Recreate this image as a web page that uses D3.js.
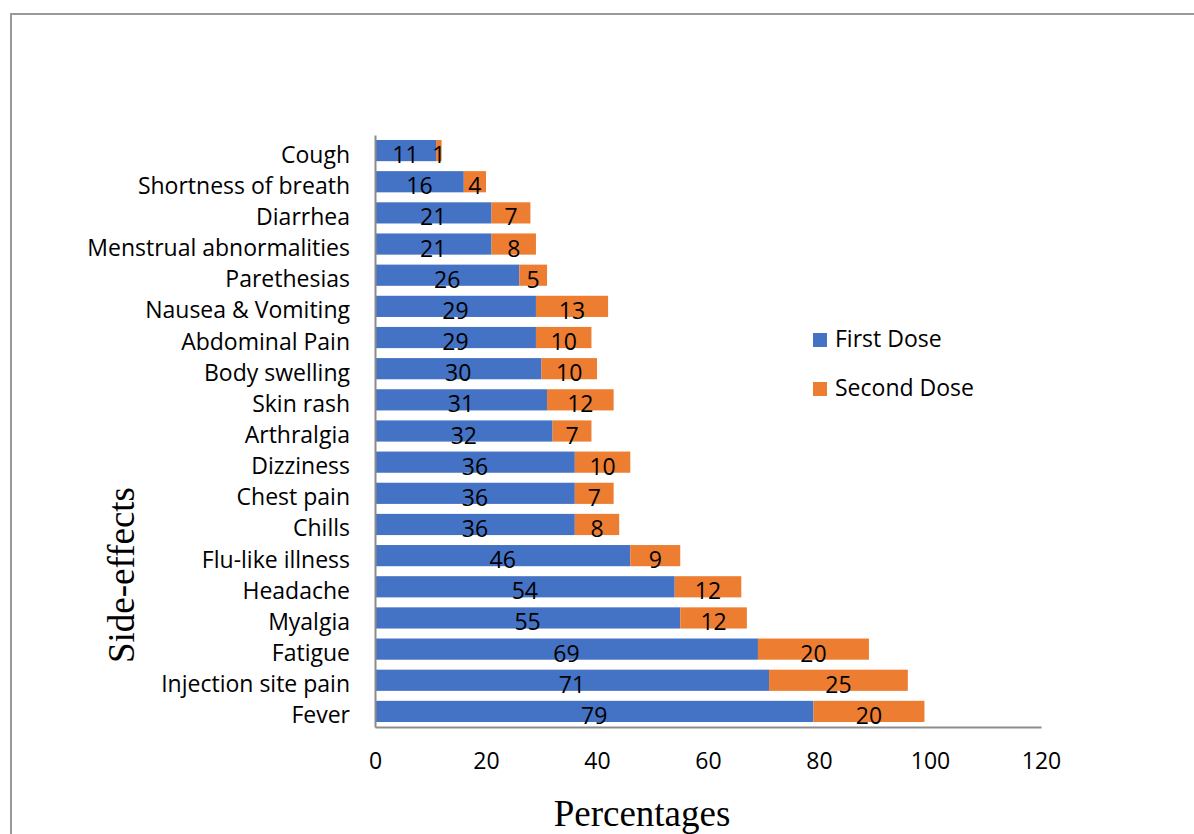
<!DOCTYPE html>
<html><head><meta charset="utf-8">
<script src="https://cdn.jsdelivr.net/npm/d3@7"></script>
<style>body{margin:0;background:#fff;}svg{display:block;}</style>
</head><body>
<script>
const categories = ["Cough","Shortness of breath","Diarrhea","Menstrual abnormalities","Parethesias","Nausea & Vomiting","Abdominal Pain","Body swelling","Skin rash","Arthralgia","Dizziness","Chest pain","Chills","Flu-like illness","Headache","Myalgia","Fatigue","Injection site pain","Fever"];
const firstDose = [11,16,21,21,26,29,29,30,31,32,36,36,36,46,54,55,69,71,79];
const secondDose = [1,4,7,8,5,13,10,10,12,7,10,7,8,9,12,12,20,25,20];
const seriesNames = ["First Dose","Second Dose"];
const colors = ["#4472C4","#ED7D31"];
const xTicks = [0,20,40,60,80,100,120];

const W=1194,H=834;
const font = "'Open Sans', sans-serif";
const fs = 23;
const svg = d3.select("body").append("svg").attr("width",W).attr("height",H);
svg.append("rect").attr("x",11).attr("y",14).attr("width",1300).attr("height",1000)
  .attr("fill","none").attr("stroke","#999").attr("stroke-width",2);

const x = d3.scaleLinear().domain([0,120]).range([375,1041]);
const y = d3.scaleBand().domain(categories).range([135,727]).paddingInner(0.32).paddingOuter(0.16);

const data = categories.map((c,i)=>({c, a:firstDose[i], b:secondDose[i]}));
const g = svg.append("g");
data.forEach(d=>{
  const segs=[[0,d.a,colors[0],d.a],[d.a,d.a+d.b,colors[1],d.b]];
  segs.forEach(s=>{
    g.append("rect").attr("x",x(s[0])).attr("y",y(d.c)).attr("width",x(s[1])-x(s[0])).attr("height",y.bandwidth()).attr("fill",s[2]);
    g.append("text").attr("x",(x(s[0])+x(s[1]))/2).attr("y",y(d.c)+y.bandwidth()/2+12.5)
      .attr("text-anchor","middle")
      .attr("font-family",font).attr("font-size",fs).attr("fill","#000").text(s[3]);
  });
});

// axes
const yAxis = svg.append("g").attr("transform","translate(375,0)")
  .call(d3.axisLeft(y).tickSize(0).tickPadding(25));
yAxis.select(".domain").attr("stroke","#8c8c8c").attr("stroke-width",2);
yAxis.selectAll("text").attr("font-family",font).attr("font-size",fs).attr("fill","#000")
  .attr("dy",null).attr("y",12);

const xAxis = svg.append("g").attr("transform","translate(0,727)")
  .call(d3.axisBottom(x).tickValues(xTicks).tickSize(0));
xAxis.select(".domain").attr("stroke","#8c8c8c").attr("stroke-width",2);
xAxis.selectAll("text").attr("font-family",font).attr("font-size",fs).attr("fill","#000")
  .attr("dy",null).attr("y",42);

svg.append("text").attr("x",642).attr("y",826).attr("text-anchor","middle")
  .attr("font-family","'Liberation Serif', 'Times New Roman', serif").attr("font-size",37).text("Percentages");
svg.append("text").attr("transform","translate(134,575) rotate(-90)").attr("text-anchor","middle")
  .attr("font-family","'Liberation Serif', 'Times New Roman', serif").attr("font-size",37).text("Side-effects");

// legend
seriesNames.forEach((n,i)=>{
  const base = 347 + i*49;
  svg.append("rect").attr("x",813).attr("y",base-14).attr("width",14).attr("height",14).attr("fill",colors[i]);
  svg.append("text").attr("x",835).attr("y",base)
    .attr("font-family",font).attr("font-size",fs).attr("fill","#000").text(n);
});
</script>
</body></html>
